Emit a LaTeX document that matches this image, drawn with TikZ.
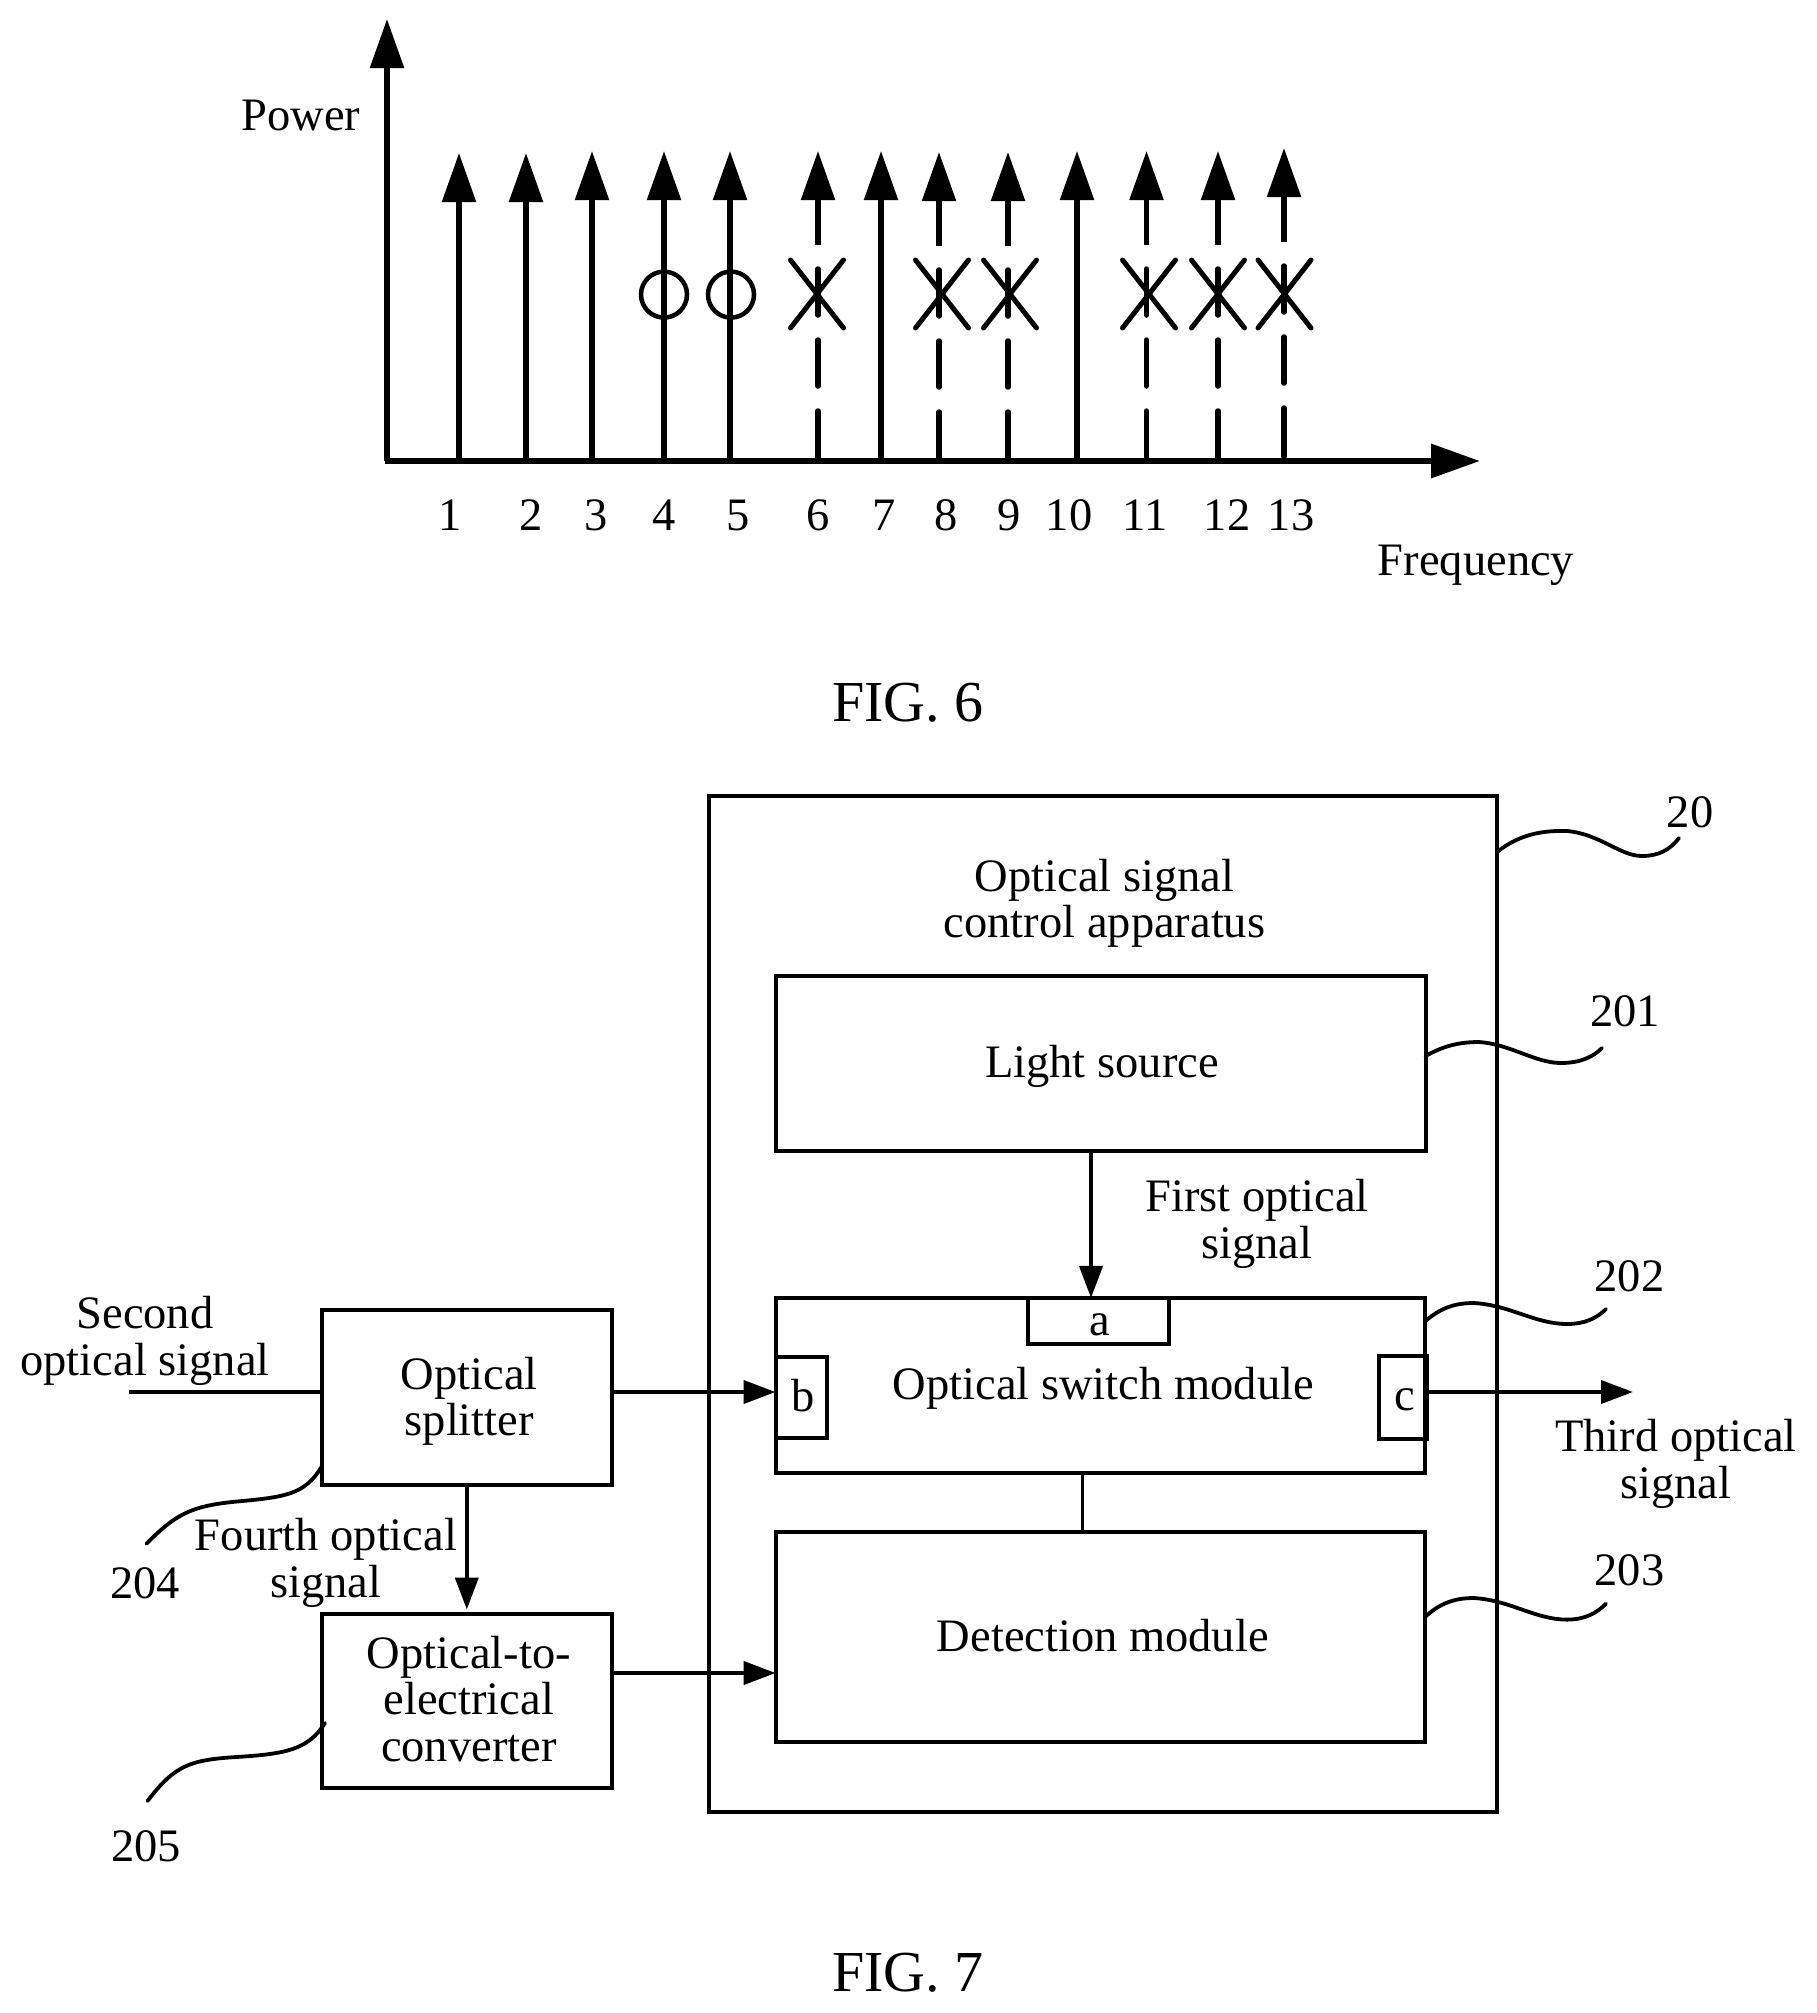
\documentclass[tikz,border=0pt]{standalone}
\usepackage{fontspec}
\setmainfont{Liberation Serif}
\usetikzlibrary{arrows.meta,calc}
\newcommand\ml[1]{\begin{tabular}[b]{@{}c@{}}#1\end{tabular}}
% #1 raise of last baseline above node centre (negative = below), #2 horizontal correction, #3 text
\newcommand\boxtxt[3]{\hspace*{#2}\smash{\raisebox{#1}{\ml{#3}}}}
\tikzset{
  x=1pt,y=-1pt,
  every node/.style={inner sep=0pt,outer sep=0pt},
  txt/.style={anchor=base,font=\fontsize{46.5}{46.5}\selectfont},
  figtxt/.style={anchor=base,font=\fontsize{58}{58}\selectfont},
  boxn/.style={draw,line width=4pt,rectangle,text height=0pt,text depth=0pt,font=\fontsize{46.5}{46.5}\selectfont},
  conn/.style={line width=4pt,-{Triangle[length=32pt,width=23pt]}},
  plain/.style={line width=4pt},
  thinlink/.style={line width=3pt},
  lead/.style={line width=3.8pt,line cap=round},
  axis/.style={line width=5.5pt,-{Triangle[length=49pt,width=33pt]}},
  axisx/.style={line width=6.5pt,-{Triangle[length=49pt,width=33pt]}},
  spike/.style={line width=5.5pt,-{Triangle[length=49pt,width=33pt]}},
  dashseg/.style={line width=5.5pt,line cap=round},
  markline/.style={line width=5pt,line cap=round},
}
\begin{document}
\begin{tikzpicture}
\useasboundingbox[fill=white] (0,0) rectangle (1816,2013);

% ---------- FIG. 6 ----------
\coordinate (origin) at (387,461);
\coordinate (ytop) at (387,19);
\coordinate (xend) at (1480,461);
\draw[axis] (origin) -- (ytop);
\draw[axisx] ([xshift=-2.5pt]origin) -- (xend);

% solid spikes
\foreach \n/\x/\t in {s1/459/153,s2/526/153,s3/592/151,s4/664/151,s5/730/151,s7/881/151,s10/1077/151}{
  \coordinate (\n) at (\x,\t);
  \draw[spike] (\x,459) -- (\n);
}
% circles on spikes 4 and 5
\node[draw,circle,line width=4.5pt,minimum size=46pt] (c4) at (664,294.6) {};
\node[draw,circle,line width=4.5pt,minimum size=46pt] (c5) at (731,294.6) {};

% dashed spikes with crosses
\foreach \n/\x/\d in {s6/818/0,s8/939/1,s9/1008/1,s11/1146.5/0,s12/1218/0,s13/1284/-3}{
  \coordinate (\n) at (\x,151+\d);
  \draw[spike] (\x,245+\d) -- (\n);
  \draw[dashseg] (\x,269+\d) -- (\x,315+\d);
  \draw[dashseg] (\x,340+\d) -- (\x,386+\d);
  \draw[dashseg] (\x,411+\d) -- (\x,458+\d*0.5);
}
\foreach \x in {817,942,1010,1149,1218,1284.5}{
  \draw[markline] (\x-26.5,260) -- (\x+26.5,328);
  \draw[markline] (\x-26.5,328) -- (\x+26.5,260);
}

\node[txt] (power) at (301,130) {Power};
\node[txt] (freq) at (1476,575.5) {Frequency};
\foreach \n/\x/\t in {n1/450.6/1,n2/531/2,n3/596.5/3,n4/664.5/4,n5/738/5,n6/818/6,n7/884/7,n8/946/8,n9/1009/9,n10/1069/10,n11/1145/11,n12/1227/12,n13/1291/13}{
  \node[txt] (\n) at (\x,530) {\t};
}
\node[figtxt] (fig6) at (908,721) {FIG. 6};

% ---------- FIG. 7 ----------
\node[draw,line width=4pt,minimum width=788pt,minimum height=1016pt] (outer) at (1103,1304) {};
\node[txt] (outerlabel) at (1104.5,937.5) {\ml{Optical signal\\control apparatus}};

\node[boxn,minimum width=650pt,minimum height=175pt] (light) at (1100.5,1063.5) {\boxtxt{-14pt}{3pt}{Light source}};
\node[boxn,minimum width=649.4pt,minimum height=175pt] (switch) at (1100.3,1385.5) {\boxtxt{-13.5pt}{6pt}{Optical switch module}};
\node[boxn,minimum width=649.4pt,minimum height=210pt] (det) at (1100.3,1636.5) {\boxtxt{-14.5pt}{5pt}{Detection module}};

\node[boxn,minimum width=141.6pt,minimum height=46.5pt] (a) at (1098.3,1321.2) {\boxtxt{-13.8pt}{4pt}{a}};
\node[boxn,minimum width=51pt,minimum height=81.3pt] (b) at (801,1397.3) {\boxtxt{-13.7pt}{4pt}{b}};
\node[boxn,minimum width=48pt,minimum height=83pt] (c) at (1403,1397.5) {\boxtxt{-13pt}{4pt}{c}};

\node[boxn,minimum width=289.6pt,minimum height=174.5pt] (split) at (466.8,1397.25) {\boxtxt{-38.5pt}{5pt}{Optical\\splitter}};
\node[boxn,minimum width=289.6pt,minimum height=174.5pt] (oe) at (466.8,1700.75) {\boxtxt{-60.5pt}{4pt}{Optical-to-\\electrical\\converter}};

\coordinate (secondin) at (129,1392);
\coordinate (thirdout) at (1633,1392);

\draw[plain] (secondin) -- ([yshift=5.25pt]split.west);
\draw[conn] ([yshift=5.25pt]split.east) -- ([yshift=5.3pt]b.west);
\draw[conn,shorten >=4pt] (split.south) -- (oe.north);
\draw[conn] ([yshift=27.75pt]oe.east) -- ([yshift=-36.5pt]det.west);
\draw[conn] ([xshift=-9.5pt]light.south) -- ([xshift=-7.3pt]a.north);
\draw[conn] ([yshift=5.5pt]c.east) -- (thirdout);
\draw[thinlink] ([xshift=-17.5pt]switch.south) -- ([xshift=-17.5pt]det.north);

\node[txt] (second) at (145,1375) {\ml{Second\\optical signal}};
\node[txt] (first) at (1257,1258) {\ml{First optical\\signal}};
\node[txt] (fourth) at (326,1597) {\ml{Fourth optical\\signal}};
\node[txt] (third) at (1676,1498) {\ml{Third optical\\signal}};

\node[txt] (r20) at (1690,827) {20};
\node[txt] (r201) at (1625,1026) {201};
\node[txt] (r202) at (1629.5,1291) {202};
\node[txt] (r203) at (1629.5,1585.4) {203};
\node[txt] (r204) at (145,1598) {204};
\node[txt] (r205) at (146,1861) {205};

\coordinate (e20) at (1679,838);
\coordinate (e201) at (1602,1048);
\coordinate (e202) at (1606,1309);
\coordinate (e203) at (1606,1603.6);
\coordinate (e204) at (146.5,1543.7);
\coordinate (e205) at (147.5,1801);

\draw[lead] ([yshift=-56pt]outer.north east) .. controls (1515,838) and (1535,830) .. (1567,831)
  .. controls (1600,834) and (1620,856) .. (1642,856) .. controls (1658,856) and (1670,850) .. (e20);
\draw[lead] ([yshift=-80pt]light.north east) .. controls (1440,1048) and (1455,1042) .. (1479,1042)
  .. controls (1510,1044) and (1535,1063) .. (1561,1063) .. controls (1580,1063) and (1593,1057) .. (e201);
\draw[lead] ([yshift=-23.5pt]switch.north east) .. controls (1440,1308) and (1455,1303) .. (1473.6,1303)
  .. controls (1510,1305) and (1535,1324) .. (1567,1324) .. controls (1585,1324) and (1597,1318) .. (e202);
\draw[lead] ([yshift=-85.5pt]det.north east) .. controls (1440,1603) and (1455,1598) .. (1473.6,1598)
  .. controls (1510,1600) and (1535,1619.6) .. (1567,1619.6) .. controls (1585,1619.6) and (1597,1613) .. (e203);
\draw[lead] ([yshift=18.5pt]split.south west) .. controls (305,1495) and (285,1497) .. (236,1501.6)
  .. controls (190,1506) and (175,1515) .. (e204);
\draw[lead] ([xshift=3pt,yshift=65pt]oe.south west) .. controls (308,1750) and (285,1754) .. (236,1757)
  .. controls (190,1760) and (175,1765) .. (e205);

\node[figtxt] (fig7) at (908,1991) {FIG. 7};
\end{tikzpicture}
\end{document}
